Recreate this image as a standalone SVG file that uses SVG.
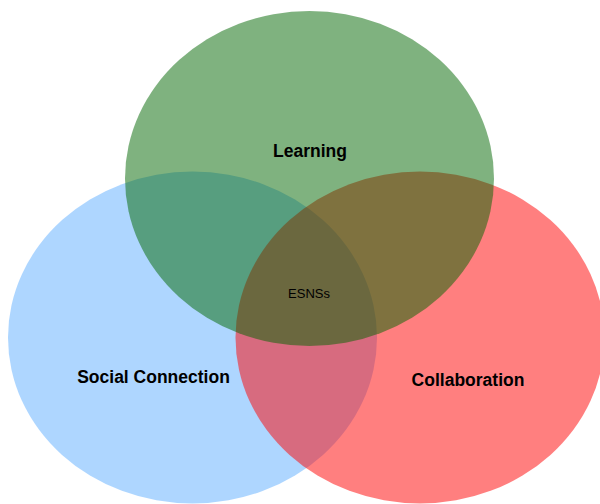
<svg xmlns="http://www.w3.org/2000/svg" width="600" height="504" viewBox="0 0 600 504">
<style>
.set{fill-opacity:0.5;stroke:none}
.lbl{font-family:"Liberation Sans",Arial,sans-serif;font-size:17.5px;font-weight:bold;fill:#000;text-anchor:middle}
.mid{font-family:"Liberation Sans",Arial,sans-serif;font-size:13px;fill:#000;text-anchor:middle}
</style>
<rect width="600" height="504" fill="#ffffff"/>
<g id="social-connection">
<ellipse class="set" cx="192.5" cy="337.5" rx="184.5" ry="166" fill="#5daeff"/>
</g>
<g id="collaboration">
<ellipse class="set" cx="420" cy="337.5" rx="184.5" ry="166" fill="#ff0000"/>
</g>
<g id="learning">
<ellipse class="set" cx="309.5" cy="178.5" rx="184.5" ry="167.5" fill="#006600"/>
</g>
<g id="labels">
<text class="lbl" x="310" y="156.5">Learning</text>
<text class="lbl" x="153.5" y="382.5">Social Connection</text>
<text class="lbl" x="468" y="386">Collaboration</text>
<text class="mid" x="309" y="297.5">ESNSs</text>
</g>
<g id="connectors"></g>
</svg>
